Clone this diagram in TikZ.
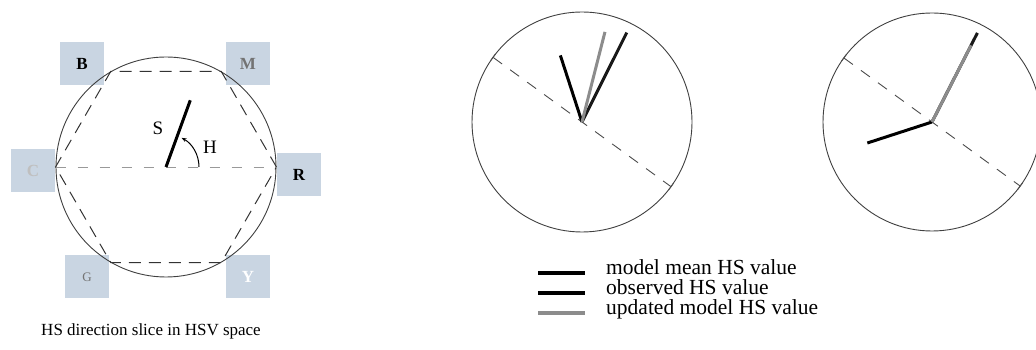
\documentclass[tikz,border=0pt]{standalone}
\usepackage{fontspec}
\setmainfont{Liberation Serif}
\usetikzlibrary{positioning, calc, arrows.meta}
\definecolor{SteelTile}{RGB}{201,213,226}

\begin{document}
\begin{tikzpicture}[
    x=1pt, y=1pt,
    node distance=0pt,
    tile/.style={rectangle, fill=SteelTile, minimum width=44pt, minimum height=43pt, inner sep=0pt, font=\fontsize{17}{17}\selectfont\bfseries},
    wheel/.style={circle, draw=black!75, line width=0.9pt, inner sep=0pt, minimum size=#1},
    hexline/.style={line width=1pt, black!80, dash pattern=on 12pt off 8pt},
    axisline/.style={line width=0.9pt, black!70, dash pattern=on 11pt off 10pt, {Bar[width=8pt]}-{Bar[width=8pt]}},
    meanvec/.style={line width=3pt, black},
    obsvec/.style={line width=3pt, black!90},
    updvec/.style={line width=3pt, black!45},
    legend/.style={anchor=base west, inner sep=0pt, font=\fontsize{21.5}{21.5}\selectfont},
    swatch/.style={line width=4.5pt}
]
    \useasboundingbox (0,0) rectangle (1036,350);

    \node[tile] (blue) at (82,286) {B};
    \node[tile, text=black!55] (magenta) at (248,286) {M};
    \node[tile, text=black!25] (cyan) at (33,179) {C};
    \node[tile] (red) at (299,175) {R};
    \node[tile, text=black!55, font=\fontsize{13}{13}\selectfont] (green) at (87,73) {G};
    \node[tile, text=white] (yellow) at (248,73) {Y};

    \node[wheel=220pt] (hsv) at (166,183) {};
    \draw[hexline] (hsv.0) -- (hsv.60) -- (hsv.120) -- (hsv.180) -- (hsv.240) -- (hsv.300) -- cycle;
    \draw[line width=0.9pt, black!40, dash pattern=on 10pt off 12pt] (hsv.180) -- (hsv.0);
    \coordinate (sat) at ($(hsv.center)+(70:71)$);
    \draw[meanvec] (hsv.center) -- (sat);
    \node[font=\fontsize{19}{19}\selectfont] (s-lbl) at (158,222) {S};
    \node[font=\fontsize{19}{19}\selectfont] (h-lbl) at (210,203) {H};
    \draw[line width=1pt, -{Stealth[length=5pt]}] ($(hsv.center)+(0:33)$) arc[start angle=0, end angle=62, radius=33];
    \node[font=\fontsize{17}{17}\selectfont] (caption) at (151,19) {HS direction slice in HSV space};

    \node[wheel=220pt] (before) at (582,228) {};
    \draw[axisline] (before.144) -- (before.-36);
    \coordinate (before-mean) at ($(before.center)+(108:70)$);
    \coordinate (before-obs) at ($(before.center)+(63.4:100)$);
    \coordinate (before-upd) at ($(before.center)+(75.7:93)$);
    \draw[meanvec] (before.center) -- (before-mean);
    \draw[obsvec] (before.center) -- (before-obs);
    \draw[updvec] (before.center) -- (before-upd);

    \node[wheel=218pt] (after) at (932,228) {};
    \draw[axisline] (after.144) -- (after.-36);
    \coordinate (after-mean) at ($(after.center)+(198:68)$);
    \coordinate (after-obs) at ($(after.center)+(63:100)$);
    \coordinate (after-upd) at ($(after.center)+(63:86)$);
    \draw[meanvec] (after.center) -- (after-mean);
    \draw[obsvec] (after.center) -- (after-obs);
    \draw[updvec] (after.center) -- (after-upd);

    \node[legend] (lg-mean) at (606,75) {model mean HS value};
    \node[legend] (lg-obs) at (606,55) {observed HS value};
    \node[legend] (lg-upd) at (606,35) {updated model HS value};
    \draw[swatch, black] (538,77) -- (585,77);
    \draw[swatch, black] (538,57) -- (585,57);
    \draw[swatch, black!45] (538,37) -- (585,37);
\end{tikzpicture}
\end{document}
